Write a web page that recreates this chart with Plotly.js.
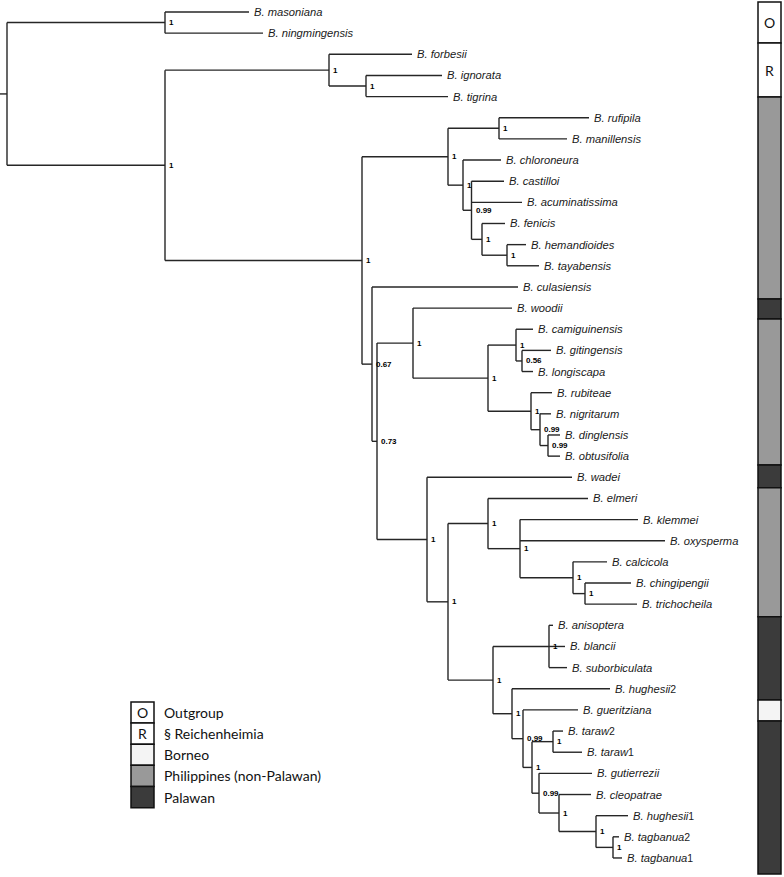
<!DOCTYPE html>
<html>
<head>
<meta charset="utf-8">
<script src="https://cdn.plot.ly/plotly-3.0.1.min.js"></script>
<style>html,body{margin:0;padding:0;background:#fff;}#chart{width:784px;height:877px;}</style>
</head>
<body>
<div id="chart"></div>
<script>
// ---- tips (top to bottom) ----
const tipNames = ['B. masoniana','B. ningmingensis','B. forbesii','B. ignorata','B. tigrina','B. rufipila','B. manillensis','B. chloroneura','B. castilloi','B. acuminatissima','B. fenicis','B. hemandioides','B. tayabensis','B. culasiensis','B. woodii','B. camiguinensis','B. gitingensis','B. longiscapa','B. rubiteae','B. nigritarum','B. dinglensis','B. obtusifolia','B. wadei','B. elmeri','B. klemmei','B. oxysperma','B. calcicola','B. chingipengii','B. trichocheila','B. anisoptera','B. blancii','B. suborbiculata','B. hughesii','B. gueritziana','B. taraw','B. taraw','B. gutierrezii','B. cleopatrae','B. hughesii','B. tagbanua','B. tagbanua'];
const tipTag = ['','','','','','','','','','','','','','','','','','','','','','','','','','','','','','','','','2','','2','1','','','1','2','1'];
// cumulative branch length (depth) of each tip
const tipDepth = [249,263,412,442,448,589,567,501,504,522,505,526,539,518,512,533,551,533,552,551,560,560,572,588,638,665,607,631,637,553,565,567,610,578,563,582,592,591,628,619,622];

// ---- internal nodes ----
const nodeIds   = ['root','og','ig','re','it','ph','A','AA','AB','AC','AD','AE','B','C','D','F','G','I','H','J','K','E','L','M','O','P','Q','N','R','S','T','U','V','W','X','Y','Z'];
const nodeDepth = [7,165,165,329,366,362,448,499,463,471.5,482,507,372,377,413,488,516,522,531,540,548,427,448,488,520,573,585,493,549,512,523,532,553,539,559,596,613];
const nodeKids  = [
  ['og','ig'],[0,1],['re','ph'],[2,'it'],[3,4],['A','B'],
  ['AA','AB'],[5,6],[7,'AC'],[8,9,'AD'],[10,'AE'],[11,12],
  [13,'C'],['D','E'],[14,'F'],['G','H'],[15,'I'],[16,17],[18,'J'],[19,'K'],[20,21],
  [22,'L'],['M','N'],[23,'O'],[24,25,'P'],[26,'Q'],[27,28],
  ['R','S'],[29,30,31],[32,'T'],[33,'U'],['V','W'],[34,35],[36,'X'],[37,'Y'],[38,'Z'],[39,40]
];
const nodeSupport = ['','1','1','1','1','1','1','1','1','0.99','1','1','0.67','0.73','1','1','1','0.56','1','0.99','0.99','1','1','1','1','1','1','1','1','1','0.99','1','1','0.99','1','1','1'];
const rootStubStart = 0;

// ---- region bar ----
const regionNames  = ['Outgroup','Reichenheimia','Philippines','Palawan','Philippines','Palawan','Philippines','Palawan','Borneo','Palawan'];
const regionStart  = [-0.47,1.47,4.02,13.57,14.52,21.42,22.5,28.6,32.53,33.52];
const regionEnd    = [1.47,4.02,13.57,14.52,21.42,22.5,28.6,32.53,33.52,40.76];
const regionLetter = ['O','R','','','','','','','',''];

// ---- legend ----
const legendKeys   = ['Outgroup','Reichenheimia','Borneo','Philippines','Palawan'];
const legendLabels = ['Outgroup','§ Reichenheimia','Borneo','Philippines (non-Palawan)','Palawan'];
const legendLetter = ['O','R','','',''];
const legendTop = 32.62;

const regionColor = {Outgroup:'#ffffff', Reichenheimia:'#ffffff', Borneo:'#f4f4f4', Philippines:'#999999', Palawan:'#3b3b3b'};

// ---- build tree geometry ----
const idx = {}; nodeIds.forEach((id,i)=>idx[id]=i);
const yMemo = {};
function yOf(k){ if (typeof k === 'number') return k; if (yMemo[k]!==undefined) return yMemo[k];
  const kids = nodeKids[idx[k]]; const v = (yOf(kids[0]) + yOf(kids[kids.length-1]))/2; yMemo[k]=v; return v; }
function xOf(k){ return typeof k === 'number' ? tipDepth[k] : nodeDepth[idx[k]]; }

const lx = [], ly = [];
lx.push(rootStubStart, nodeDepth[0], null); ly.push(yOf('root'), yOf('root'), null);
nodeIds.forEach((id,i)=>{
  const kids = nodeKids[i]; const nx = nodeDepth[i];
  lx.push(nx, nx, null); ly.push(yOf(kids[0]), yOf(kids[kids.length-1]), null);
  kids.forEach(k=>{ lx.push(nx, xOf(k), null); ly.push(yOf(k), yOf(k), null); });
});

const annotations = [];
tipNames.forEach((n,i)=>{
  annotations.push({x: tipDepth[i], y: i, xref:'x', yref:'y', xanchor:'left', yanchor:'middle', xshift:3,
    text: '<i>'+n+'</i>' + (tipTag[i] ? '<span style="font-size:10.5px">'+tipTag[i]+'</span>' : ''),
    showarrow:false, font:{family:'Liberation Sans, Arial, sans-serif', size:11.2, color:'#1a1a1a'}});
});
nodeIds.forEach((id,i)=>{
  if (!nodeSupport[i]) return;
  annotations.push({x: nodeDepth[i], y: yOf(id), xref:'x', yref:'y', xanchor:'left', yanchor:'middle', xshift:2,
    text: '<b>'+nodeSupport[i]+'</b>', showarrow:false,
    font:{family:'Liberation Sans, Arial, sans-serif', size:8, color:'#000'}});
});
regionLetter.forEach((t,i)=>{
  if (!t) return;
  annotations.push({x: 769.5, y:(regionStart[i]+regionEnd[i])/2, xref:'x', yref:'y', text:t, showarrow:false,
    font:{family:'Lato, sans-serif', size:14, color:'#111'}});
});
legendLabels.forEach((t,i)=>{
  annotations.push({x: 162, y: legendTop+i+0.5, xref:'x', yref:'y', xanchor:'left', yanchor:'middle', text:t, showarrow:false,
    font:{family:'Lato, sans-serif', size:14, color:'#111'}});
  if (legendLetter[i]) annotations.push({x: 142.5, y: legendTop+i+0.5, xref:'x', yref:'y', text:legendLetter[i], showarrow:false,
    font:{family:'Lato, sans-serif', size:14, color:'#111'}});
});

const traces = [
  {type:'scatter', mode:'lines', x:lx, y:ly, line:{color:'#262626', width:1.4}, hoverinfo:'skip', connectgaps:false},
  {type:'bar', x: regionStart.map(()=>769.5), base: regionStart, y: regionStart.map((s,i)=>regionEnd[i]-s),
    width: regionStart.map(()=>23), marker:{color: regionNames.map(r=>regionColor[r]), line:{color:'#111', width:1.5}}, hoverinfo:'skip'},
  {type:'bar', x: legendKeys.map(()=>142.5), base: legendKeys.map((k,i)=>legendTop+i), y: legendKeys.map(()=>1),
    width: legendKeys.map(()=>23), marker:{color: legendKeys.map(r=>regionColor[r]), line:{color:'#111', width:1.5}}, hoverinfo:'skip'}
];

const layout = {
  width:784, height:877, margin:{l:0,r:0,t:0,b:0}, showlegend:false, barmode:'overlay',
  paper_bgcolor:'#fff', plot_bgcolor:'#fff',
  xaxis:{range:[0,784], visible:false, fixedrange:true},
  yaxis:{range:[40.9,-0.567], visible:false, fixedrange:true},
  annotations: annotations
};
Plotly.newPlot('chart', traces, layout, {staticPlot:true, displayModeBar:false});
</script>
</body>
</html>
